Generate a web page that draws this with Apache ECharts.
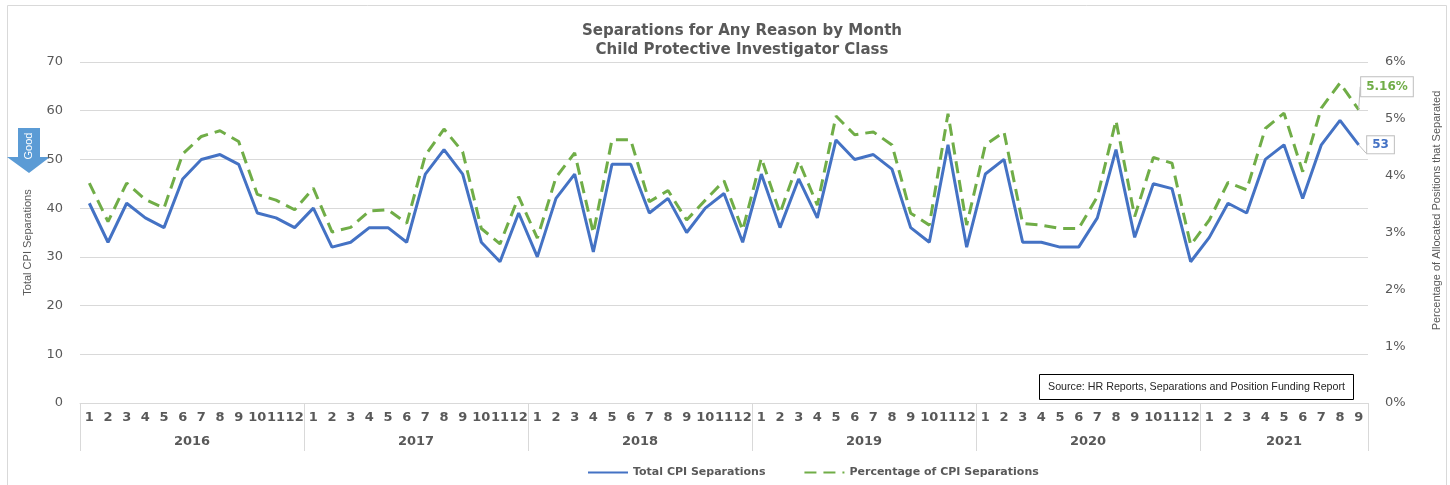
<!DOCTYPE html>
<html>
<head>
<meta charset="utf-8">
<script src="https://cdn.jsdelivr.net/npm/echarts@6/dist/echarts.min.js"></script>
<style>
  html, body { margin: 0; padding: 0; background: #fff; }
  #chart { width: 1450px; height: 485px; }
</style>
</head>
<body>
<div id="chart"></div>
<script>
const YEARS = ['2016', '2017', '2018', '2019', '2020', '2021']
const MONTHS_PER_YEAR = [12, 12, 12, 12, 12, 9]

// total CPI separations, one value per month (2016-01 .. 2021-09)
const totalSeparations = [
  41, 33, 41, 38, 36, 46, 50, 51, 49, 39, 38, 36,
  40, 32, 33, 36, 36, 33, 47, 52, 47, 33, 29, 39,
  30, 42, 47, 31, 49, 49, 39, 42, 35, 40, 43, 33,
  47, 36, 46, 38, 54, 50, 51, 48, 36, 33, 53, 32,
  47, 50, 33, 33, 32, 32, 38, 52, 34, 45, 44, 29,
  34, 41, 39, 50, 53, 42, 53, 58, 53
]
// percentage of allocated positions that separated (%)
const pctSeparations = [
  3.87, 3.19, 3.87, 3.58, 3.43, 4.38, 4.69, 4.79, 4.60, 3.67, 3.57, 3.40,
  3.78, 3.01, 3.09, 3.38, 3.40, 3.16, 4.36, 4.82, 4.42, 3.07, 2.80, 3.63,
  2.90, 3.97, 4.40, 2.99, 4.63, 4.63, 3.54, 3.74, 3.22, 3.57, 3.91, 3.04,
  4.31, 3.34, 4.26, 3.48, 5.05, 4.72, 4.77, 4.54, 3.34, 3.13, 5.09, 3.13,
  4.54, 4.77, 3.16, 3.13, 3.07, 3.07, 3.63, 4.97, 3.28, 4.32, 4.22, 2.78,
  3.22, 3.88, 3.75, 4.83, 5.10, 4.07, 5.19, 5.63, 5.16
]

const BLUE = '#4472C4'
const GREEN = '#70AD47'
const GREY_TEXT = '#595959'
const GRID_LINE = '#D9D9D9'

// build the two-level category labels
const monthLabels = []
const yearOfMonth = []
const yearStarts = {}
const yearLabelAt = {}
let idx = 0
YEARS.forEach((y, k) => {
  const n = MONTHS_PER_YEAR[k]
  yearStarts[idx] = true
  const mid = idx + n / 2 - 0.5
  yearLabelAt[Math.floor(mid)] = mid % 1 !== 0 // true -> shift half a band right
  for (let m = 1; m <= n; m++) {
    monthLabels.push(String(m))
    yearOfMonth.push(y)
  }
  idx += n
})

const chart = echarts.init(document.getElementById('chart'))
const plotWidth = 1450 - 80 - 82
const band = plotWidth / monthLabels.length

const lastIdx = totalSeparations.length - 1
// invisible point so the end label can hang on it
const endPoint = (v) => ({
  value: v,
  symbol: 'circle',
  symbolSize: 1,
  itemStyle: { color: 'transparent', borderWidth: 0 },
  label: { show: true }
})

const blueData = totalSeparations.map((v, i) => (i === lastIdx ? endPoint(v) : v))
const greenData = pctSeparations.map((v, i) => (i === lastIdx ? endPoint(v) : v))

const option = {
  animation: false,
  title: [
    {
      text: 'Separations for Any Reason by Month\nChild Protective Investigator Class',
      left: 742,
      top: 22,
      padding: 0,
      textAlign: 'center',
      textStyle: {
        fontFamily: 'DejaVu Sans',
        fontSize: 15,
        fontWeight: 'bold',
        color: GREY_TEXT,
        lineHeight: 19
      }
    },
    {
      text: 'Source: HR Reports, Separations and Position Funding Report',
      left: 1039,
      top: 374,
      padding: [7, 9],
      borderColor: '#000',
      borderWidth: 1,
      textStyle: {
        fontFamily: 'Liberation Sans',
        fontSize: 10.7,
        fontWeight: 'normal',
        color: '#262626',
        lineHeight: 12
      }
    }
  ],
  legend: {
    left: 587,
    top: 467,
    padding: 0,
    itemWidth: 40,
    itemHeight: 14,
    itemGap: 38,
    itemStyle: { opacity: 0 },
    textStyle: {
      fontFamily: 'DejaVu Sans',
      fontSize: 11,
      fontWeight: 'bold',
      color: GREY_TEXT
    },
    data: ['Total CPI Separations', 'Percentage of CPI Separations']
  },
  grid: {
    left: 80,
    right: 82,
    top: 62,
    bottom: 82
  },
  xAxis: [
    {
      type: 'category',
      data: monthLabels,
      position: 'bottom',
      axisLine: { lineStyle: { color: GRID_LINE, width: 1 } },
      axisTick: {
        show: true,
        length: 48,
        interval: (i) => !!yearStarts[i],
        lineStyle: { color: GRID_LINE }
      },
      axisLabel: {
        interval: 0,
        margin: 8,
        fontFamily: 'DejaVu Sans',
        fontSize: 13,
        fontWeight: 'bold',
        color: GREY_TEXT
      }
    },
    {
      type: 'category',
      data: yearOfMonth,
      position: 'bottom',
      axisLine: { show: false },
      axisTick: { show: false },
      axisLabel: {
        interval: (i) => i in yearLabelAt,
        margin: 32,
        formatter: (value, i) => (yearLabelAt[i] ? '{s|' + value + '}' : '{n|' + value + '}'),
        rich: {
          s: {
            fontFamily: 'DejaVu Sans', fontSize: 13, fontWeight: 'bold', color: GREY_TEXT,
            padding: [0, 0, 0, band]
          },
          n: { fontFamily: 'DejaVu Sans', fontSize: 13, fontWeight: 'bold', color: GREY_TEXT }
        }
      }
    }
  ],
  yAxis: [
    {
      type: 'value',
      min: 0,
      max: 70,
      interval: 10,
      name: 'Total CPI Separations',
      nameLocation: 'middle',
      nameGap: 47,
      nameRotate: 90,
      nameTextStyle: {
        fontFamily: 'Liberation Sans',
        fontSize: 11,
        color: GREY_TEXT,
        padding: [0, 20, 0, 0]
      },
      axisLine: { show: false },
      axisTick: { show: false },
      axisLabel: { margin: 17, fontFamily: 'DejaVu Sans', fontSize: 13, color: GREY_TEXT },
      splitLine: { lineStyle: { color: GRID_LINE, width: 1 } }
    },
    {
      type: 'value',
      min: 0,
      max: 6,
      interval: 1,
      position: 'right',
      name: 'Percentage of Allocated Positions that Separated',
      nameLocation: 'middle',
      nameGap: 63,
      nameRotate: 90,
      nameTextStyle: {
        fontFamily: 'Liberation Sans',
        fontSize: 11,
        color: GREY_TEXT,
        padding: [0, 0, 0, 44]
      },
      axisLine: { show: false },
      axisTick: { show: false },
      axisLabel: {
        margin: 17,
        formatter: '{value}%',
        fontFamily: 'DejaVu Sans',
        fontSize: 13,
        color: GREY_TEXT
      },
      splitLine: { show: false }
    }
  ],
  series: [
    {
      name: 'Total CPI Separations',
      type: 'line',
      xAxisIndex: 0,
      yAxisIndex: 0,
      symbol: 'none',
      showSymbol: true,
      data: blueData,
      lineStyle: { color: BLUE, width: 3 },
      itemStyle: { color: BLUE },
      z: 3,
      label: {
        position: 'right',
        distance: 8,
        fontFamily: 'DejaVu Sans',
        fontSize: 12,
        fontWeight: 'bold',
        color: BLUE,
        backgroundColor: '#fff',
        borderColor: '#BFBFBF',
        borderWidth: 1,
        padding: [3, 5, 2, 5]
      },
      labelLine: { show: true, lineStyle: { color: '#BFBFBF', width: 1 } }
    },
    {
      name: 'Percentage of CPI Separations',
      type: 'line',
      xAxisIndex: 0,
      yAxisIndex: 1,
      symbol: 'none',
      showSymbol: true,
      data: greenData,
      lineStyle: { color: GREEN, width: 3, type: [12, 7] },
      itemStyle: { color: GREEN },
      z: 2,
      label: {
        position: 'right',
        distance: 2,
        formatter: '{c}%',
        fontFamily: 'DejaVu Sans',
        fontSize: 12,
        fontWeight: 'bold',
        color: GREEN,
        backgroundColor: '#fff',
        borderColor: '#BFBFBF',
        borderWidth: 1,
        padding: [4, 5, 3, 5]
      },
      labelLayout: { dy: -23 },
      labelLine: { show: true, lineStyle: { color: '#BFBFBF', width: 1 } }
    }
  ],
  graphic: [
    {
      type: 'rect',
      silent: true,
      shape: { x: 7.5, y: 5.5, width: 1439, height: 490 },
      style: { fill: 'none', stroke: GRID_LINE, lineWidth: 1 }
    },
    {
      type: 'polygon',
      silent: true,
      shape: { points: [[18, 128], [40, 128], [40, 157], [50, 157], [29, 173], [7, 157], [18, 157]] },
      style: { fill: '#5B9BD5' }
    },
    {
      type: 'text',
      silent: true,
      x: 29,
      y: 146,
      rotation: Math.PI / 2,
      style: {
        text: 'Good',
        fill: '#fff',
        font: '11px "Liberation Sans", sans-serif',
        align: 'center',
        verticalAlign: 'middle'
      }
    }
  ]
}

chart.setOption(option)
</script>
</body>
</html>
